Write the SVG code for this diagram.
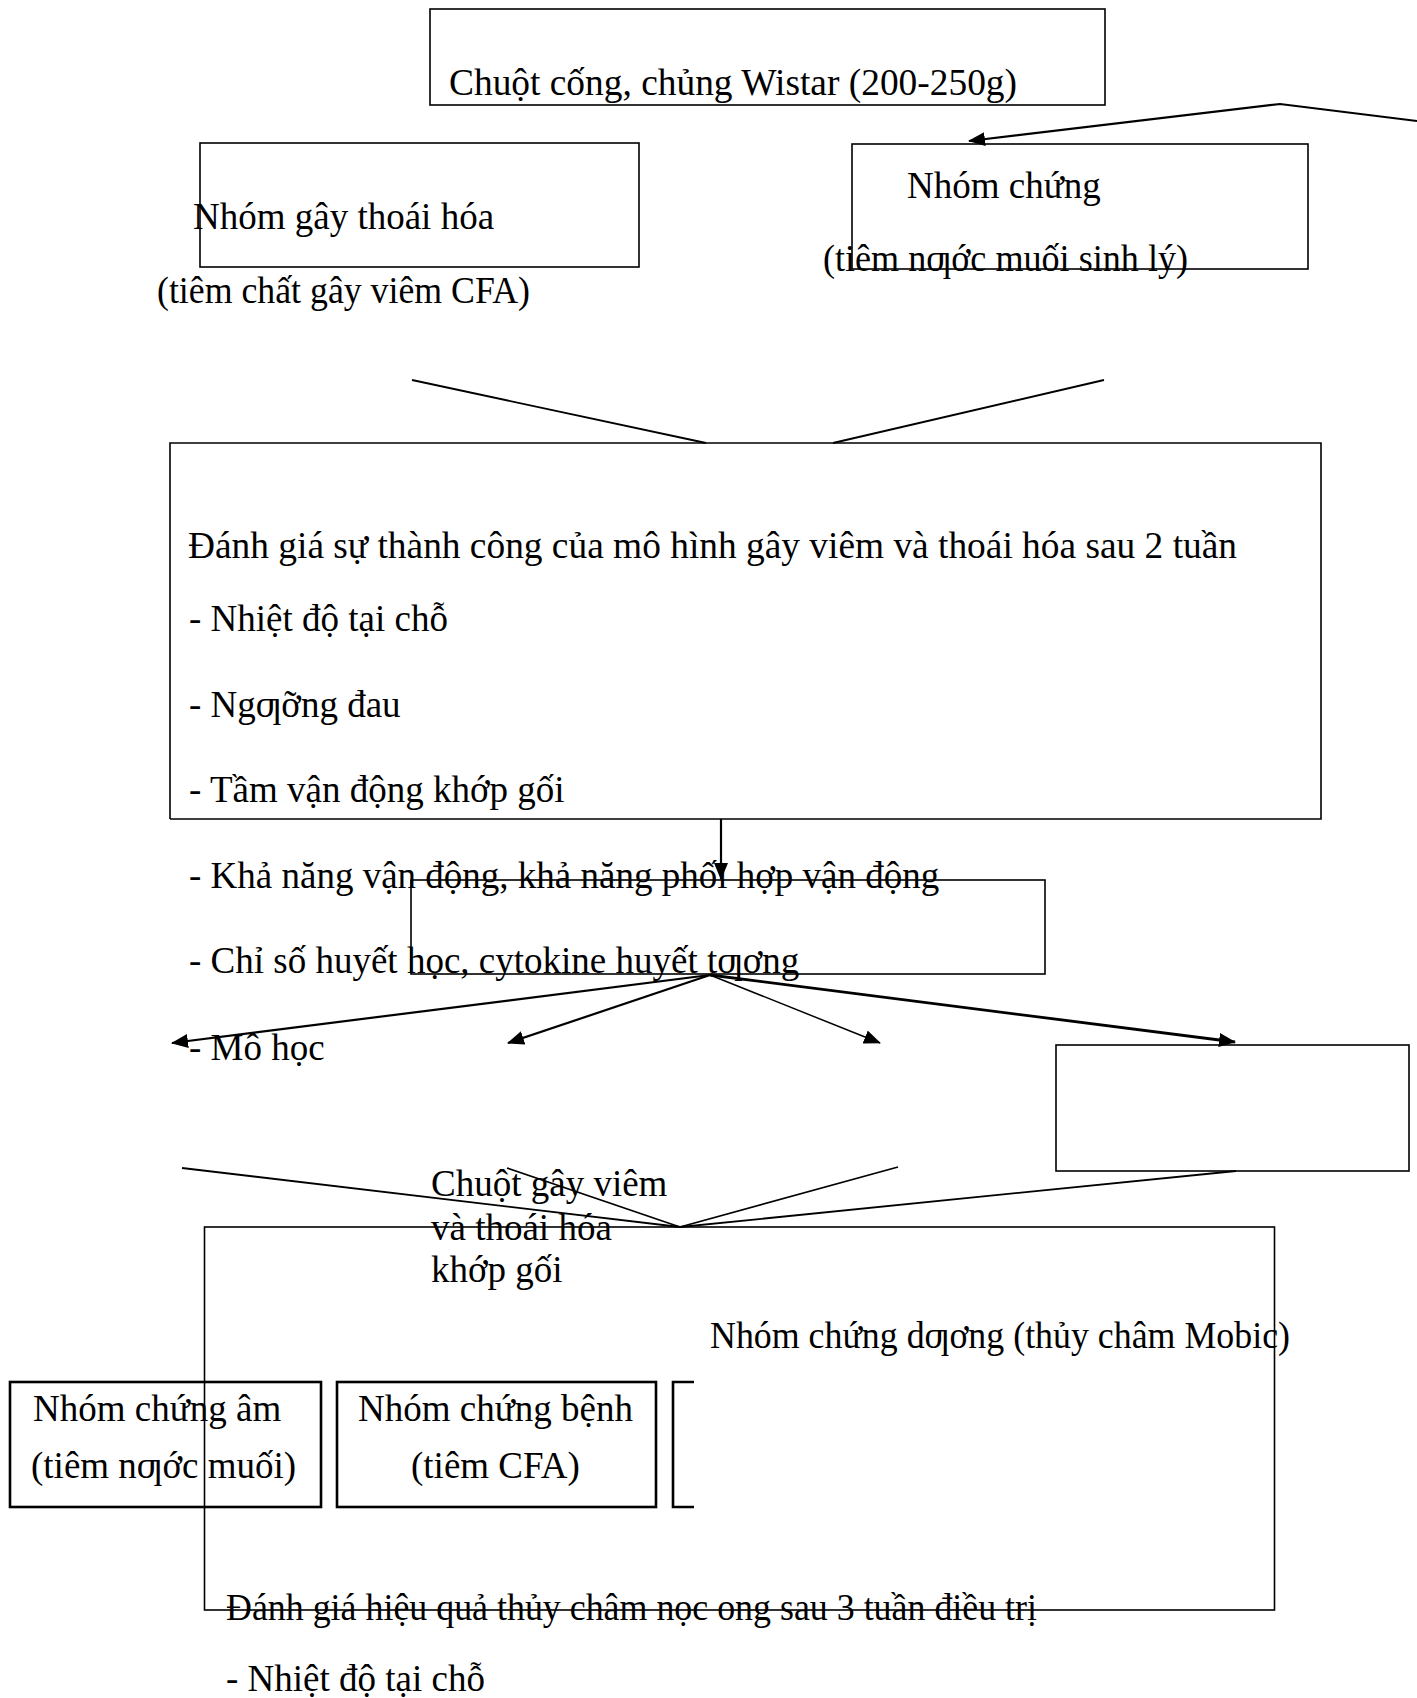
<svg xmlns="http://www.w3.org/2000/svg" width="1417" height="1698" viewBox="0 0 1417 1698">
<style>
text{font-family:"Liberation Serif","Times New Roman",serif;font-size:37px;fill:#000}
.box{fill:none;stroke:#000;stroke-width:1.6}
.thick{fill:none;stroke:#000;stroke-width:2.6}
.ln{fill:none;stroke:#000;stroke-width:1.8}
.ar{fill:none;stroke:#000;stroke-width:2.2;marker-end:url(#ah)}
</style>
<defs>
<marker id="ah" markerUnits="userSpaceOnUse" markerWidth="18" markerHeight="14" refX="16" refY="7" orient="auto">
<path d="M0,0 L17,7 L0,14 Z" fill="#000"/>
</marker>
</defs>
<rect width="1417" height="1698" fill="#fff"/>
<g id="connectors">
<polyline class="ar" points="1417,121 1280,104 969,141"/>
<line class="ln" x1="412" y1="380" x2="706" y2="443"/>
<line class="ln" x1="1104" y1="380" x2="833" y2="443"/>
<line class="ar" x1="721" y1="819" x2="721" y2="879"/>
<line class="ar" x1="710" y1="975" x2="172" y2="1043"/>
<line class="ar" x1="710" y1="975" x2="508" y2="1043"/>
<line class="ar" x1="710" y1="975" x2="880" y2="1043" style="stroke-width:1.5"/>
<line class="ar" x1="710" y1="975" x2="1235" y2="1042" style="stroke-width:2.8"/>
<line class="ln" x1="182" y1="1168" x2="680" y2="1227"/>
<line class="ln" x1="507" y1="1168" x2="680" y2="1227"/>
<line class="ln" x1="898" y1="1167" x2="680" y2="1227"/>
<line class="ln" x1="1236" y1="1171" x2="680" y2="1227"/>
</g>
<g id="n-rats">
<rect class="box" x="430" y="9" width="675" height="96"/>
<text x="449" y="95" textLength="568" lengthAdjust="spacingAndGlyphs">Chuột cống, chủng Wistar (200-250g)</text>
</g>
<g id="n-degeneration">
<rect class="box" x="200" y="143" width="439" height="124"/>
<text x="193" y="229">Nhóm gây thoái hóa</text>
<text x="157" y="303" textLength="373" lengthAdjust="spacingAndGlyphs">(tiêm chất gây viêm CFA)</text>
</g>
<g id="n-control">
<rect class="box" x="852" y="144" width="456" height="125"/>
<text x="907" y="198">Nhóm chứng</text>
<text x="823" y="271" textLength="365" lengthAdjust="spacingAndGlyphs">(tiêm nƣớc muối sinh lý)</text>
</g>
<g id="n-eval1">
<path class="box" d="M170,819 V443 H1321 V819 H170"/>
<text x="188" y="558" textLength="1049" lengthAdjust="spacingAndGlyphs">Đánh giá sự thành công của mô hình gây viêm và thoái hóa sau 2 tuần</text>
<text x="189" y="631">- Nhiệt độ tại chỗ</text>
<text x="189" y="717">- Ngƣỡng đau</text>
<text x="189" y="802">- Tầm vận động khớp gối</text>
<text x="189" y="888">- Khả năng vận động, khả năng phối hợp vận động</text>
<text x="189" y="973">- Chỉ số huyết học, cytokine huyết tƣơng</text>
<text x="189" y="1060">- Mô học</text>
</g>
<g id="n-model">
<rect class="box" x="411" y="880" width="634" height="94"/>
</g>
<g id="n-model-label">
<text x="431" y="1196">Chuột gây viêm</text>
<text x="431" y="1240">và thoái hóa</text>
<text x="431" y="1282">khớp gối</text>
</g>
<g id="n-right">
<rect class="box" x="1056" y="1045" width="353" height="126"/>
</g>
<g id="n-eval2">
<rect class="box" x="204.5" y="1227" width="1070" height="383"/>
<text x="710" y="1348" textLength="580" lengthAdjust="spacingAndGlyphs">Nhóm chứng dƣơng (thủy châm Mobic)</text>
<text x="226" y="1620" textLength="811" lengthAdjust="spacingAndGlyphs">Đánh giá hiệu quả thủy châm nọc ong sau 3 tuần điều trị</text>
<text x="226" y="1691">- Nhiệt độ tại chỗ</text>
</g>
<g id="n-negative">
<rect class="thick" x="10" y="1382" width="311" height="125"/>
<text x="33" y="1421">Nhóm chứng âm</text>
<text x="31" y="1478">(tiêm nƣớc muối)</text>
</g>
<g id="n-disease">
<rect class="thick" x="337" y="1382" width="319" height="125"/>
<text x="358" y="1421">Nhóm chứng bệnh</text>
<text x="411" y="1478">(tiêm CFA)</text>
</g>
<g id="n-positive">
<path class="thick" d="M694,1382 H673 V1507 H694"/>
</g>
</svg>
